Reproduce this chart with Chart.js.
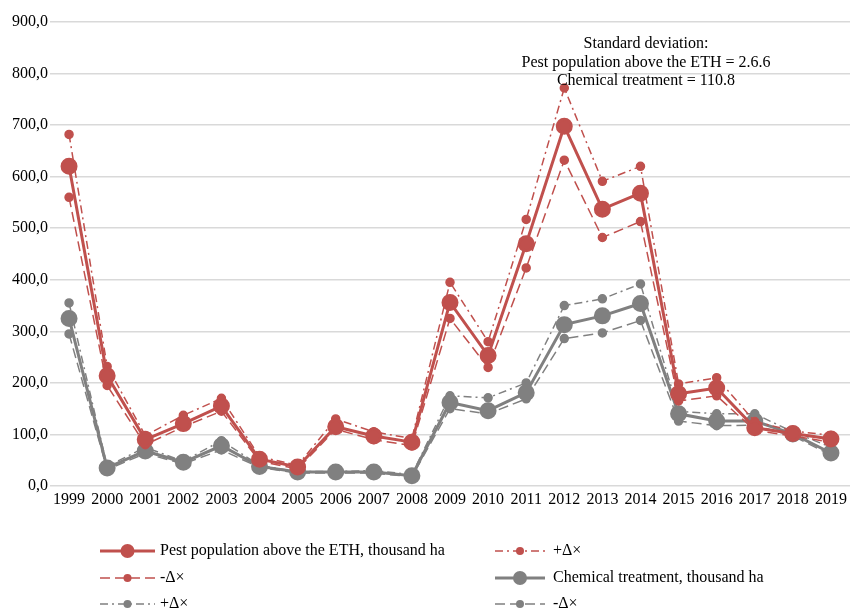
<!DOCTYPE html>
<html>
<head>
<meta charset="utf-8">
<script src="https://cdn.jsdelivr.net/npm/chart.js@4/dist/chart.umd.min.js"></script>
<style>
  html, body { margin: 0; padding: 0; background: #fff; overflow: hidden; }
  #wrap { width: 850px; height: 611px; position: relative; overflow: hidden; }
  #c { display: block; }
</style>
</head>
<body>
<div id="wrap"><canvas id="c" width="850" height="611"></canvas></div>
<script>
// Years on the horizontal axis
const years = ['1999','2000','2001','2002','2003','2004','2005','2006','2007','2008','2009',
               '2010','2011','2012','2013','2014','2015','2016','2017','2018','2019'];

// Pest population above the ETH, thousand ha, with its +/- bands
const pest      = [620, 214, 90, 121, 155, 52, 37, 115, 97, 85, 356, 253, 470, 698, 537, 568, 179, 190, 113, 102, 91];
const pestPlus  = [682, 232, 98, 137, 170, 57, 40, 130, 105, 92, 395, 280, 517, 772, 591, 620, 198, 210, 125, 107, 98];
const pestMinus = [560, 195, 80, 115, 145, 48, 33, 110, 90, 78, 325, 230, 423, 632, 482, 513, 165, 175, 108, 97, 85];

// Chemical treatment, thousand ha, with its +/- bands
const chem      = [325, 35, 68, 46, 78, 38, 27, 27, 27, 20, 162, 146, 181, 313, 330, 354, 140, 126, 126, 101, 64];
const chemPlus  = [355, 38, 75, 48, 88, 40, 28, 28, 30, 22, 175, 171, 200, 350, 363, 392, 145, 140, 140, 105, 75];
const chemMinus = [295, 32, 63, 43, 70, 36, 25, 25, 25, 18, 150, 140, 169, 286, 297, 321, 126, 117, 118, 97, 60];

const yTicksMax = 900;
const noteLines = ['Standard deviation:', 'Pest population above the ETH = 2.6.6', 'Chemical treatment = 110.8'];

const RED = '#c0504d';
const GREY = '#808080';
const SERIF = '"Liberation Serif", "Times New Roman", serif';

function series(label, data, color, width, dash, radius) {
  return {
    label, data,
    borderColor: color, backgroundColor: color,
    pointBackgroundColor: color, pointBorderColor: color,
    borderWidth: width, borderDash: dash,
    pointRadius: radius, pointHoverRadius: radius,
    tension: 0, fill: false
  };
}

// Two-column legend drawn below the plot, row-major order
const gridLegend = {
  id: 'gridLegend',
  afterDraw(chart) {
    const ctx = chart.ctx;
    const cols = [{ x0: 100, x1: 155, tx: 160 }, { x0: 495, x1: 545, tx: 553 }];
    const rows = [551, 578, 604];
    ctx.save();
    chart.data.datasets.forEach((ds, i) => {
      const c = cols[i % 2], y = rows[Math.floor(i / 2)];
      ctx.strokeStyle = ds.borderColor;
      ctx.lineWidth = ds.borderWidth;
      ctx.setLineDash(ds.borderDash || []);
      ctx.beginPath(); ctx.moveTo(c.x0, y); ctx.lineTo(c.x1, y); ctx.stroke();
      ctx.setLineDash([]);
      ctx.fillStyle = ds.borderColor;
      ctx.beginPath(); ctx.arc((c.x0 + c.x1) / 2, y, ds.pointRadius, 0, Math.PI * 2); ctx.fill();
      ctx.fillStyle = '#000';
      ctx.font = '16px ' + SERIF;
      ctx.textBaseline = 'middle';
      ctx.textAlign = 'left';
      ctx.fillText(ds.label, c.tx, y);
    });
    ctx.restore();
  }
};

// Standard deviation note in the upper right of the plot
const note = {
  id: 'note',
  afterDatasetsDraw(chart) {
    const ctx = chart.ctx;
    ctx.save();
    ctx.fillStyle = '#000';
    ctx.font = '16px ' + SERIF;
    ctx.textAlign = 'center';
    ctx.textBaseline = 'middle';
    noteLines.forEach((t, i) => ctx.fillText(t, 646, 44 + i * 18.5));
    ctx.restore();
  }
};

new Chart(document.getElementById('c'), {
  type: 'line',
  data: {
    labels: years,
    datasets: [
      series('Pest population above the ETH, thousand ha', pest, RED, 3, [], 7),
      series('+\u0394\u00d7', pestPlus, RED, 1.5, [8, 4, 2, 4], 4),
      series('-\u0394\u00d7', pestMinus, RED, 1.5, [10, 5], 4),
      series('Chemical treatment, thousand ha', chem, GREY, 3, [], 7),
      series('+\u0394\u00d7', chemPlus, GREY, 1.5, [8, 4, 2, 4], 4),
      series('-\u0394\u00d7', chemMinus, GREY, 1.5, [10, 5], 4)
    ]
  },
  options: {
    responsive: false,
    animation: false,
    layout: { autoPadding: false, padding: { top: 22, bottom: 100, left: 0, right: 0 } },
    plugins: { legend: { display: false }, tooltip: { enabled: false } },
    scales: {
      x: {
        offset: true,
        grid: { display: false, drawTicks: false },
        border: { display: false },
        ticks: { color: '#000', font: { family: SERIF, size: 16 }, padding: 4, maxRotation: 0, autoSkip: false },
        afterFit(s) { s.height = 25; s.paddingLeft = 0; s.paddingRight = 0; }
      },
      y: {
        min: 0, max: yTicksMax,
        ticks: {
          stepSize: 100, color: '#000', padding: 2,
          font: { family: SERIF, size: 16 },
          callback: v => v.toFixed(1).replace('.', ',')
        },
        grid: { color: '#d9d9d9', lineWidth: 1.5, drawTicks: false },
        border: { display: false },
        afterFit(s) { s.width = 50; s.paddingTop = 0; s.paddingBottom = 0; }
      }
    }
  },
  plugins: [gridLegend, note]
});
</script>
</body>
</html>
